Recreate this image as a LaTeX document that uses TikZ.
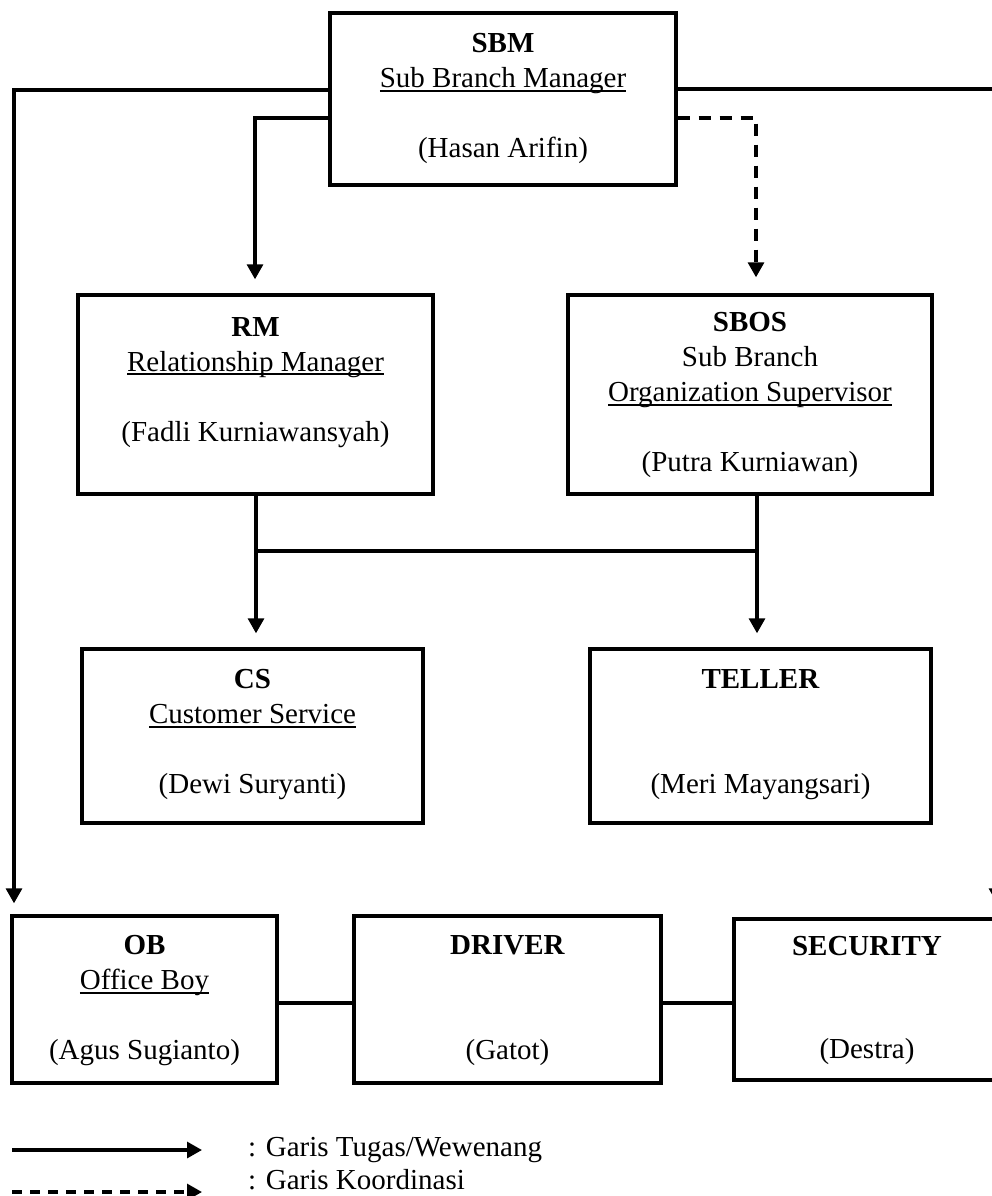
\documentclass[tikz,border=0pt]{standalone}
\usepackage{fontspec}
\setmainfont{Liberation Serif}
\usetikzlibrary{arrows.meta}
\newcommand{\myul}[1]{\setbox0\hbox{#1}\rlap{\rule[-4pt]{\wd0}{2pt}}\box0}
\tikzset{
  box/.style={draw, line width=3.4pt, inner sep=0pt, rectangle},
  txt/.style={inner sep=0pt, align=center, font=\fontsize{29}{35}\selectfont, anchor=north},
  conn/.style={line width=3.2pt},
  arr/.style={conn, -{Triangle[length=15pt,width=16pt]}},
  darr/.style={arr, dash pattern=on 12pt off 9pt},
  ldarr/.style={arr, dash pattern=on 10pt off 8pt},
  legtxt/.style={inner sep=0pt, anchor=west, font=\fontsize{29}{35}\selectfont}
}
\begin{document}
\begin{tikzpicture}[x=1pt,y=-1pt]
\useasboundingbox (0,0) rectangle (992,1196);
\clip (0,0) rectangle (992,1196);
% boxes
\node[box, minimum width=346pt, minimum height=172pt] (sbm) at (503,99) {};
\node[box, minimum width=355pt, minimum height=199pt] (rm) at (255.5,394.5) {};
\node[box, minimum width=364pt, minimum height=199pt] (sbos) at (750,394.5) {};
\node[box, minimum width=341pt, minimum height=174pt] (cs) at (252.5,736) {};
\node[box, minimum width=341pt, minimum height=174pt] (teller) at (760.5,736) {};
\node[box, minimum width=265pt, minimum height=167pt] (ob) at (144.5,999.5) {};
\node[box, minimum width=307pt, minimum height=167pt] (driver) at (507.5,999.5) {};
\node[box, minimum width=266pt, minimum height=161pt] (security) at (867,999.5) {};
% texts
\node[txt] (tsbm) at ([yshift=-22pt]sbm.north) {\textbf{SBM}\\\myul{Sub Branch Manager}\\[35pt](Hasan Arifin)};
\node[txt] (trm) at ([yshift=-24pt]rm.north) {\textbf{RM}\\\myul{Relationship Manager}\\[35pt](Fadli Kurniawansyah)};
\node[txt] (tsbos) at ([yshift=-19pt]sbos.north) {\textbf{SBOS}\\Sub Branch\\\myul{Organization Supervisor}\\[35pt](Putra Kurniawan)};
\node[txt] (tcs) at ([yshift=-22pt]cs.north) {\textbf{CS}\\\myul{Customer Service}\\[35pt](Dewi Suryanti)};
\node[txt] (tteller) at ([yshift=-22pt]teller.north) {\textbf{TELLER}\\[70pt](Meri Mayangsari)};
\node[txt] (tob) at ([yshift=-21pt]ob.north) {\textbf{OB}\\\myul{Office Boy}\\[35pt](Agus Sugianto)};
\node[txt] (tdriver) at ([yshift=-21pt]driver.north) {\textbf{DRIVER}\\[70pt](Gatot)};
\node[txt] (tsecurity) at ([yshift=-19pt]security.north) {\textbf{SECURITY}\\[68pt](Destra)};
% connectors from SBM
\coordinate (lt) at (14,90);
\draw[arr] (sbm.west |- lt) -- (lt) -- ([yshift=11pt]lt |- ob.north);
\coordinate (rmt) at (255,118);
\draw[arr] (sbm.west |- rmt) -- (rmt) -- ([yshift=14pt]rmt |- rm.north);
\coordinate (rt) at (997,89);
\draw[arr] (sbm.east |- rt) -- (rt) -- ([yshift=14pt]rt |- security.north);
\coordinate (dt) at (756,118);
\draw[darr] (sbm.east |- dt) -- (dt) -- ([yshift=16pt]dt |- sbos.north);
% RM/SBOS to CS/TELLER
\coordinate (j1) at (256,551);
\coordinate (j2) at (757,551);
\draw[conn] (j1 |- rm.south) -- (j1) -- (j2);
\draw[conn] (j2 |- sbos.south) -- (j2);
\draw[arr] (j1) -- ([yshift=14pt]j1 |- cs.north);
\draw[arr] (j2) -- ([yshift=14pt]j2 |- teller.north);
% bottom row links
\coordinate (bl) at (0,1003);
\draw[conn] (ob.east |- bl) -- (driver.west |- bl);
\draw[conn] (driver.east |- bl) -- (security.west |- bl);
% legend
\coordinate (la1) at (12,1150);
\coordinate (la2) at (202,1150);
\coordinate (lb1) at (12,1192);
\coordinate (lb2) at (202,1192);
\draw[arr] (la1) -- (la2);
\draw[ldarr] (lb1) -- (lb2);
\node[legtxt] (lt1) at (248,1150) {: Garis Tugas/Wewenang};
\node[legtxt] (lt2) at (248,1180) {: Garis Koordinasi};
\end{tikzpicture}
\end{document}
